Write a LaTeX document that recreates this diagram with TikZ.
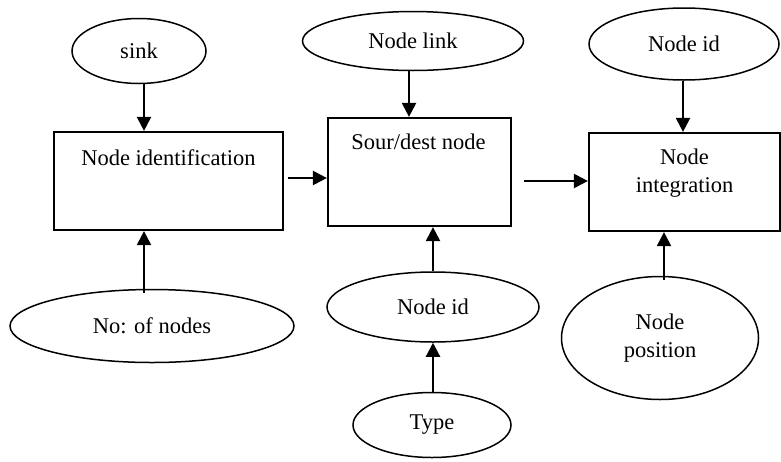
\documentclass[tikz,border=0pt]{standalone}
\usepackage{fontspec}
\setmainfont{Liberation Serif}
\usetikzlibrary{shapes.geometric,arrows.meta}
\begin{document}
\begin{tikzpicture}[x=1pt,y=-1pt,
  every node/.style={font=\fontsize{22.5}{28}\selectfont},
  boxnode/.style={draw, line width=2.2pt, rectangle, inner sep=0pt},
  ell/.style={draw, line width=1.5pt, ellipse, inner sep=0pt, align=center},
  lbl/.style={inner sep=0pt, anchor=base},
  arr/.style={line width=2.2pt, -{Triangle[length=14pt,width=14pt]}}]
\useasboundingbox (0,0) rectangle (781,461);
% boxes
\node[boxnode, minimum width=229pt, minimum height=98pt] (b1) at (168.5,181) {};
\node[boxnode, minimum width=183pt, minimum height=108pt] (b2) at (419.5,172) {};
\node[boxnode, minimum width=191pt, minimum height=98pt] (b3) at (684.5,182) {};
\node[lbl] (t1) at (168.5,165) {Node identification};
\node[lbl] (t2) at (418.5,149) {Sour/dest node};
\node[lbl] (t3a) at (684.5,164) {Node};
\node[lbl] (t3b) at (684.5,192) {integration};
% ellipses
\node[ell, minimum width=134pt, minimum height=65pt] (sink) at (139,51) {sink};
\node[ell, minimum width=221pt, minimum height=59pt] (link) at (413,41) {Node link};
\node[ell, minimum width=190pt, minimum height=72pt] (idtop) at (684,44) {Node id};
\node[ell, minimum width=284pt, minimum height=73pt] (nn) at (152,326) {No: of nodes};
\node[ell, minimum width=212pt, minimum height=70pt] (idmid) at (433,307) {Node id};
\node[ell, minimum width=158pt, minimum height=65pt] (type) at (432,425) {Type};
\node[ell, minimum width=197pt, minimum height=123pt] (pos) at (660,338) {Node\\position};
% arrow guide coordinates
\coordinate (x1) at (144,0);
\coordinate (x2) at (409,0);
\coordinate (x3) at (683,0);
\coordinate (x4) at (433,0);
\coordinate (x5) at (664,0);
\coordinate (h1) at (0,178);
\coordinate (h2) at (0,181);
% arrows
\draw[arr] (sink.south -| x1) -- (b1.north -| x1);
\draw[arr] (link.south -| x2) -- (b2.north -| x2);
\draw[arr] (idtop.south -| x3) -- (b3.north -| x3);
\draw[arr] ([yshift=-4pt]nn.north -| x1) -- (b1.south -| x1);
\draw[arr] (idmid.north -| x4) -- (b2.south -| x4);
\draw[arr] (type.north -| x4) -- (idmid.south -| x4);
\draw[arr] ([yshift=-4pt]pos.north -| x5) -- (b3.south -| x5);
\draw[arr] ([xshift=4pt]b1.east |- h1) -- (b2.west |- h1);
\draw[arr] ([xshift=12pt]b2.east |- h2) -- (b3.west |- h2);
\end{tikzpicture}
\end{document}
